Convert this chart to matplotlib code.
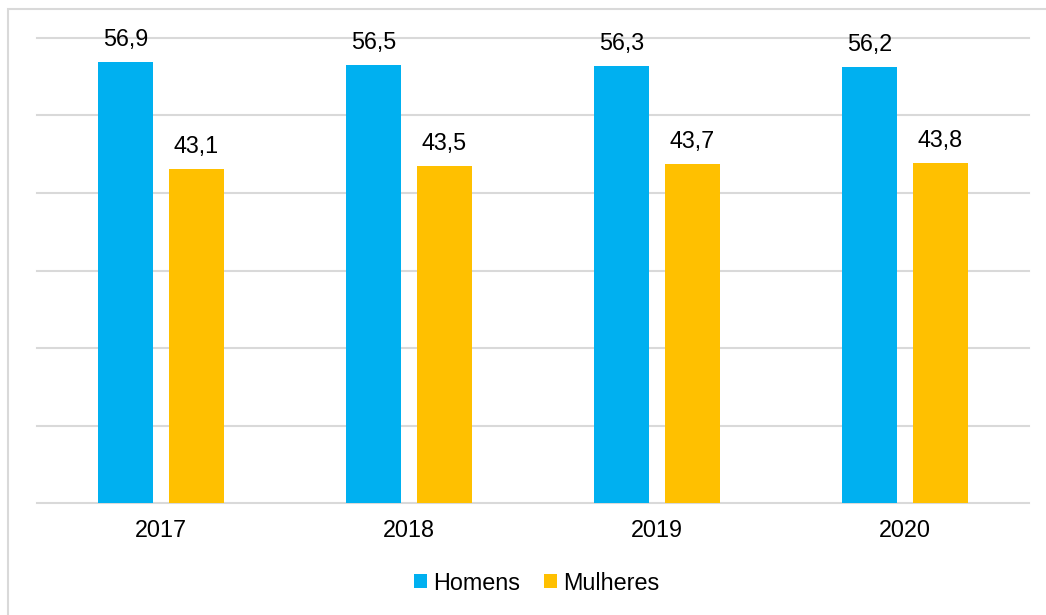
import matplotlib
matplotlib.use("Agg")
import matplotlib.pyplot as plt
import matplotlib.patches as mpatches
import numpy as np

categories = ["2017", "2018", "2019", "2020"]
homens = [56.9, 56.5, 56.3, 56.2]
mulheres = [43.1, 43.5, 43.7, 43.8]
series_names = ["Homens", "Mulheres"]
colors = ["#00B0F0", "#FFC000"]

plt.rcParams['font.family'] = ['Liberation Sans', 'DejaVu Sans']
FS = 16.8

fig = plt.figure(figsize=(10.46, 6.15), dpi=100)
ax = fig.add_axes([37/1046, 111.7/615, 992/1046, 465.6/615])

x = np.arange(len(categories))
w = 0.223
off = 0.1425
b1 = ax.bar(x - off, homens, w, color=colors[0], label=series_names[0], zorder=3)
b2 = ax.bar(x + off, mulheres, w, color=colors[1], label=series_names[1], zorder=3)

fmt = lambda v: f"{v:.1f}".replace('.', ',')
ax.bar_label(b1, labels=[fmt(v) for v in homens], padding=8, fontsize=FS, color='black')
ax.bar_label(b2, labels=[fmt(v) for v in mulheres], padding=8, fontsize=FS, color='black')

ax.set_xlim(-0.5, len(categories) - 0.5)
ax.set_ylim(0, 60)
ax.set_yticks(np.arange(0, 61, 10))
ax.set_yticklabels([])
ax.tick_params(axis='y', length=0)
ax.set_xticks(x)
ax.set_xticklabels(categories, fontsize=FS)
ax.tick_params(axis='x', length=0, pad=11)
for s in ax.spines.values():
    s.set_visible(False)
ax.yaxis.grid(True, color='#D9D9D9', linewidth=1.5, zorder=0)
ax.set_axisbelow(True)
for gl in ax.get_ygridlines():
    gl.set_clip_on(False)

fig.legend(loc='center', bbox_to_anchor=(0.513, 0.052), ncol=2, frameon=False,
           fontsize=FS, handlelength=0.56, handleheight=0.55, handletextpad=0.26,
           columnspacing=1.0, borderaxespad=0, borderpad=0)

border = mpatches.Rectangle((8/1046, -0.2), 1.5, 1.2 - 9/615, transform=fig.transFigure,
                            fill=False, edgecolor='#D9D9D9', linewidth=1.5)
fig.patches.append(border)

fig.savefig("out.png", dpi=100)
